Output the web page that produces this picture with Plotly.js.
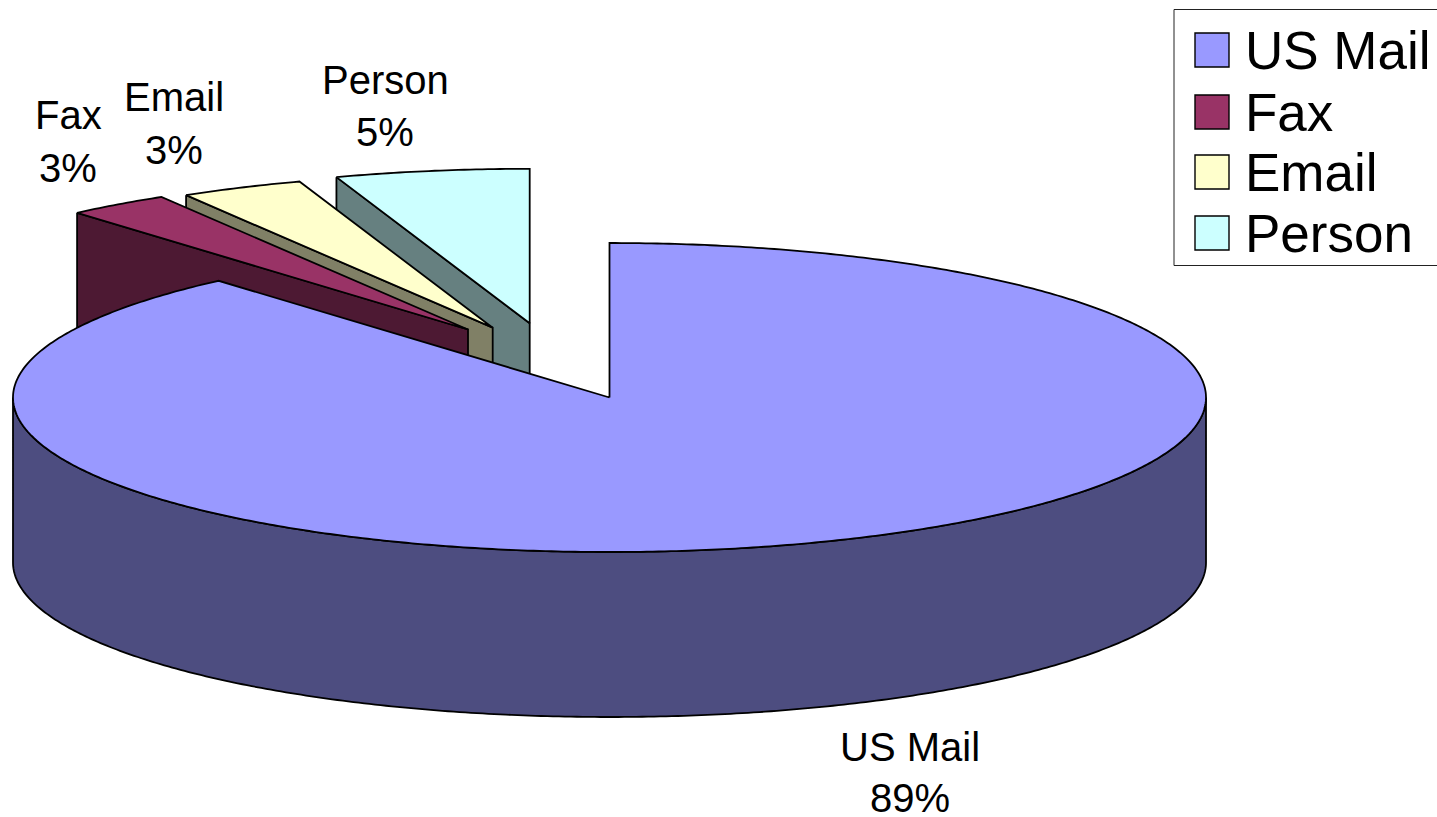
<!DOCTYPE html>
<html>
<head>
<meta charset="utf-8">
<script src="https://cdn.plot.ly/plotly-3.0.1.min.js"></script>
<style>html,body{margin:0;padding:0;background:#fff;overflow:hidden}#chart{width:1437px;height:817px}</style>
</head>
<body>
<div id="chart"></div>
<script>
// Data
const categories = ['US Mail', 'Fax', 'Email', 'Person'];
const shares = [88.6, 2.78, 3.34, 5.25];

// Styles
const topColors = ['#9999FF', '#993366', '#FFFFCC', '#CCFFFF'];
const wallColors = ['#4D4D80', '#4D1933', '#808066', '#668080'];
const FONT = 'Liberation Sans, Arial, sans-serif';

// Layout of the 3-D projection
const radiusX = 596.5, radiusY = 154.5, depth = 165;
const centers = [[609.5, 397.5], [468, 329.5], [492.7, 327.7], [529.7, 323.3]];
const labelPos = [[910, 747, 798], [68, 115, 168], [174, 97, 150], [385, 80, 132]];
const legendRowY = [50, 112, 172, 233];
const legendBox = {x0: 1174, x1: 1460, y0: 9.5, y1: 265.5};

const total = shares.reduce((a, b) => a + b, 0);
const toAngle = s => s / total * 2 * Math.PI;

function arc(c, a0, a1, dy) {
  const xs = [], ys = [], n = Math.max(2, Math.ceil(Math.abs(a1 - a0) / 0.01));
  for (let i = 0; i <= n; i++) {
    const t = a0 + (a1 - a0) * i / n;
    xs.push(c[0] + radiusX * Math.sin(t));
    ys.push(c[1] - radiusY * Math.cos(t) + dy);
  }
  return [xs, ys];
}

function poly(name, xs, ys, fill) {
  return {type: 'scatter', mode: 'lines', name, x: xs, y: ys, fill: 'toself', fillcolor: fill,
    line: {color: '#000', width: 1.8, simplify: false}, hoverinfo: 'skip', showlegend: false};
}

const tops = [], walls = [];
let start = 0;
shares.forEach((s, i) => {
  const end = start + toAngle(s), c = centers[i], name = categories[i];
  const [ax, ay] = arc(c, start, end, 0);
  tops[i] = poly(name, [c[0], ...ax, c[0]], [c[1], ...ay, c[1]], topColors[i]);
  if (i === 0) {
    // outer wall: visible lower half of the rim
    const [ux, uy] = arc(c, Math.PI / 2, 3 * Math.PI / 2, 0);
    const [lx, ly] = arc(c, 3 * Math.PI / 2, Math.PI / 2, depth);
    walls[i] = poly(name, [...ux, ...lx, ux[0]], [...uy, ...ly, uy[0]], wallColors[i]);
  } else {
    // cut wall running from the rim to the apex
    const rx = ax[0], ry = ay[0];
    walls[i] = poly(name, [rx, c[0], c[0], rx, rx], [ry, c[1], c[1] + depth, ry + depth, ry], wallColors[i]);
  }
  start = end;
});

// paint back to front: Person, Email, Fax, US Mail
const traces = [];
[3, 2, 1, 0].forEach(i => { traces.push(walls[i], tops[i]); });

// legend swatches
traces.push({type: 'scatter', mode: 'markers', name: 'legend', x: categories.map(() => 1212), y: legendRowY,
  marker: {symbol: 'square', size: 34, color: topColors, line: {color: '#000', width: 1.4}},
  hoverinfo: 'skip', showlegend: false});

const annotations = [];
const note = (text, x, y, size, anchor) => annotations.push({text, x, y, xref: 'x', yref: 'y',
  showarrow: false, xanchor: anchor, yanchor: 'middle', font: {family: FONT, size, color: '#000'}});
categories.forEach((c, i) => {
  note(c, labelPos[i][0], labelPos[i][1], 40, 'center');
  note(Math.round(shares[i] / total * 100) + '%', labelPos[i][0], labelPos[i][2], 40, 'center');
  note(c, 1243, legendRowY[i], 53, 'left');
});

Plotly.newPlot('chart', traces, {
  width: 1437, height: 817, autosize: false,
  margin: {l: 0, r: 0, t: 0, b: 0, pad: 0},
  paper_bgcolor: '#fff', plot_bgcolor: '#fff', showlegend: false,
  xaxis: {range: [0, 1437], visible: false, fixedrange: true},
  yaxis: {range: [817, 0], visible: false, fixedrange: true},
  shapes: [Object.assign({type: 'rect', xref: 'x', yref: 'y', line: {color: '#222', width: 1}, fillcolor: 'rgba(0,0,0,0)', layer: 'below'}, legendBox)],
  annotations
}, {displayModeBar: false, staticPlot: true});
</script>
</body>
</html>
